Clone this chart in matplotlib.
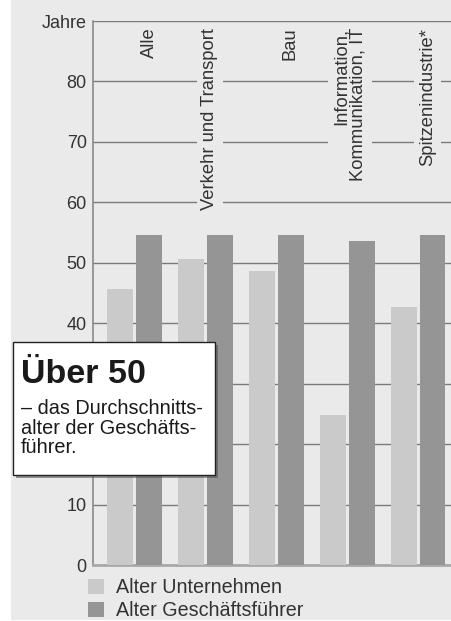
import matplotlib.pyplot as plt
from matplotlib.patches import Rectangle

plt.rcParams['font.family'] = ['Liberation Sans', 'DejaVu Sans']

categories = ['Alle', 'Verkehr und Transport', 'Bau', 'Information,\nKommunikation, IT', 'Spitzenindustrie*']
alter_unternehmen = [45.7, 50.6, 48.6, 24.8, 42.7]
alter_gf = [54.6, 54.6, 54.6, 53.6, 54.6]
series_names = ['Alter Unternehmen', 'Alter Geschäftsführer']
yticks = [0, 10, 20, 30, 40, 50, 60, 70, 80, 90]
# 20 and 30 sit under the call-out box, so they stay blank
ytick_labels = ['0', '10', '', '', '40', '50', '60', '70', '80', 'Jahre']

bg = '#eaeaea'
light = '#cacaca'
dark = '#959595'
txt = '#333333'
W, H = 452, 621

fig = plt.figure(figsize=(W / 100, H / 100), dpi=100, facecolor='white')
# grey panel behind everything
fig.patches.append(Rectangle((11 / W, 1 / H), 1, 1, transform=fig.transFigure,
                             facecolor=bg, edgecolor='none', zorder=-10))

ax = fig.add_axes([93 / W, 1 - 565 / H, 1 - 93 / W, (565 - 21) / H])
ax.set_facecolor(bg)

x = list(range(len(categories)))
bw = 0.366
off = 0.204
b1 = ax.bar([i - off for i in x], alter_unternehmen, bw, color=light, zorder=3)
b2 = ax.bar([i + off for i in x], alter_gf, bw, color=dark, zorder=3)

ax.set_xlim(-0.585, 4.479)
ax.set_ylim(0, 90)
ax.set_xticks([])
ax.set_yticks(yticks)
ax.set_yticklabels(ytick_labels, fontsize=13, color=txt)
ax.tick_params(axis='y', length=0, pad=4.5)
ax.yaxis.grid(True, color='#7a7a7a', lw=1)
ax.set_axisbelow(True)
for s in ['top', 'right']:
    ax.spines[s].set_visible(False)
ax.spines['left'].set_color('#8a8a8a')
ax.spines['left'].set_linewidth(1.2)
ax.spines['bottom'].set_color('#a8a8a8')
ax.spines['bottom'].set_linewidth(2)

# category labels, rotated, masking the gridlines
label_shift = [0.218, 0.063, 0.19, 0.035, 0.134]
for i, (c, s) in enumerate(zip(categories, label_shift)):
    ax.text(i + s, 88.9, c, rotation=90, ha='center', va='top',
            multialignment='right', fontsize=13.2, color=txt, linespacing=1.05,
            zorder=4, bbox=dict(boxstyle='square,pad=0.25', fc=bg, ec='none'))

# call-out box with shadow
bx, by, bwid, bh = 13 / W, 1 - 475 / H, 202 / W, 133 / H
fig.patches.append(Rectangle((bx + 3 / W, by - 3 / H), bwid, bh, transform=fig.transFigure,
                             facecolor='#555555', alpha=0.6, edgecolor='none', zorder=5))
fig.patches.append(Rectangle((bx, by), bwid, bh, transform=fig.transFigure,
                             facecolor='white', edgecolor='#222222', lw=1, zorder=6))
fig.text(21 / W, 1 - 383 / H, 'Über 50', fontsize=24.5, fontweight='bold',
         color='#1a1a1a', va='baseline', zorder=7)
for k, line in enumerate(['– das Durchschnitts-', 'alter der Geschäfts-', 'führer.']):
    fig.text(21 / W, 1 - (414 + 19.5 * k) / H, line, fontsize=14.3,
             color='#1a1a1a', va='baseline', zorder=7)

fig.legend([b1, b2], series_names, loc='upper left',
           bbox_to_anchor=(88 / W, 1 - 578 / H), frameon=False,
           fontsize=14.2, handlelength=0.8, handleheight=0.8,
           handletextpad=0.62, labelspacing=0.2, borderpad=0,
           borderaxespad=0, labelcolor=txt)

fig.savefig('out.png', dpi=100, facecolor='white')
